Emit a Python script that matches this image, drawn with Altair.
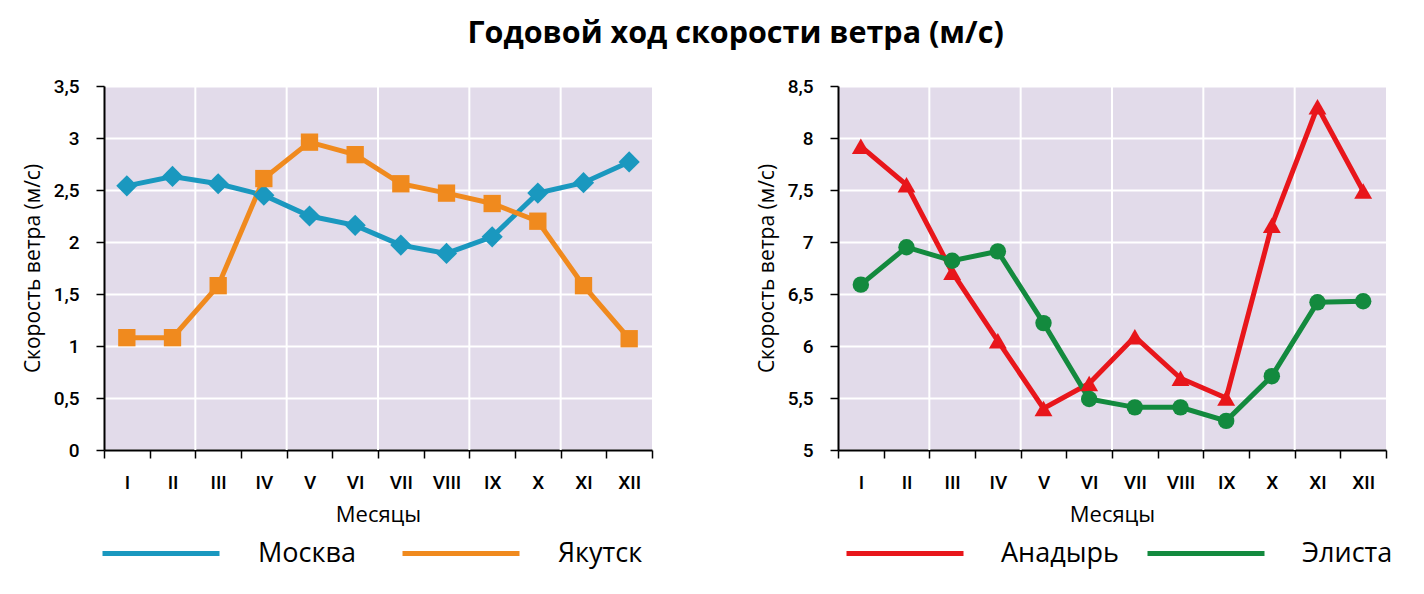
import altair as alt
import pandas as pd

months = ["I", "II", "III", "IV", "V", "VI", "VII", "VIII", "IX", "X", "XI", "XII"]
grid_months = ["III", "V", "VII", "IX", "XI"]

moscow = [2.54, 2.63, 2.56, 2.45, 2.25, 2.16, 1.97, 1.89, 2.05, 2.47, 2.57, 2.77]
yakutsk = [1.08, 1.08, 1.58, 2.61, 2.96, 2.84, 2.56, 2.47, 2.37, 2.20, 1.58, 1.07]
anadyr = [7.92, 7.55, 6.71, 6.05, 5.40, 5.64, 6.09, 5.69, 5.50, 7.16, 8.30, 7.49]
elista = [6.59, 6.95, 6.82, 6.91, 6.22, 5.49, 5.41, 5.41, 5.28, 5.71, 6.42, 6.43]

left_names = ["Москва", "Якутск"]
right_names = ["Анадырь", "Элиста"]
left_colors = ["#1a98bf", "#f08a1e"]
right_colors = ["#e8161b", "#138a3e"]
left_shapes = ["diamond", "square"]
right_shapes = ["triangle-up", "circle"]
left_sizes = [450, 300]
right_sizes = [320, 270]
left_ticks = [0, 0.5, 1, 1.5, 2, 2.5, 3, 3.5]
right_ticks = [5, 5.5, 6, 6.5, 7, 7.5, 8, 8.5]

W, H = 548, 364
SYM = 117
AXF = "Roboto, sans-serif"
TXF = "Open Sans, sans-serif"


def panel(names, series, colors, shapes, sizes, ydom, yvals, legx, colpad, laboff):
    rows = []
    for n, s in zip(names, series):
        for m, v in zip(months, s):
            rows.append({"m": m, "v": v, "city": n})
    df = pd.DataFrame(rows)
    xs = alt.Scale(type="band", domain=months, paddingInner=0, paddingOuter=0)
    ys = alt.Scale(domain=ydom, nice=False, zero=False)
    xaxis = alt.Axis(
        title="Месяцы", tickBand="extent", labelAngle=0, grid=False,
        domainColor="black", domainWidth=2, tickColor="black", tickSize=8,
        tickWidth=1.5, labelPadding=15, labelFontSize=19, labelFont=AXF,
        labelFontWeight=500, labelColor="black", titleFontSize=22,
        titleFont=TXF, titleFontWeight="normal", titleColor="black",
        titlePadding=12,
    )
    yaxis = alt.Axis(
        values=yvals, title="Скорость ветра (м/с)", grid=True, gridColor="white",
        gridWidth=2, gridOpacity=1, domainColor="black", domainWidth=2,
        tickColor="black", tickSize=8, tickWidth=1.5, labelPadding=17,
        labelFontSize=19, labelFont=AXF, labelFontWeight=500,
        labelColor="black", format=".1~f",
        labelExpr="replace(datum.label, '.', ',')", titleFontSize=21,
        titleFont=TXF, titleFontWeight="normal", titleColor="black",
        titlePadding=10,
    )
    x = alt.X("m:N", scale=xs, sort=months, axis=xaxis)
    y = alt.Y("v:Q", scale=ys, axis=yaxis)
    grid = alt.Chart(pd.DataFrame({"m": grid_months})).mark_rule(
        color="white", strokeWidth=2
    ).encode(x=alt.X("m:N", scale=xs, sort=months, axis=xaxis, bandPosition=0))
    legend = alt.Legend(
        title=None, orient="none", legendX=legx, legendY=H + 101 - SYM / 2,
        direction="horizontal", symbolType="stroke", symbolSize=SYM ** 2,
        symbolStrokeWidth=5, labelFontSize=27, labelFont=TXF,
        labelColor="black", labelOffset=laboff, columnPadding=colpad,
        symbolOpacity=1,
    )
    color = alt.Color("city:N", scale=alt.Scale(domain=names, range=colors),
                      legend=legend)
    base = alt.Chart(df)
    lines = base.mark_line(strokeWidth=5).encode(x=x, y=y, color=color)
    layers = [grid, lines]
    for n, c, sh, sz in zip(names, colors, shapes, sizes):
        layers.append(
            base.mark_point(filled=True, opacity=1, color=c, shape=sh, size=sz)
            .transform_filter(alt.datum.city == n)
            .encode(x=x, y=y)
        )
    return alt.layer(*layers).properties(width=W, height=H)


left = panel(left_names, [moscow, yakutsk], left_colors, left_shapes, left_sizes,
             [0, 3.5], left_ticks, -4, 36, 36)
right = panel(right_names, [anadyr, elista], right_colors, right_shapes,
              right_sizes, [5, 8.5], right_ticks, 6, 18, 35)

chart = alt.hconcat(left, right, spacing=103).resolve_scale(
    color="independent", x="independent", y="independent",
).resolve_legend(color="independent").properties(
    title=alt.TitleParams(
        text="Годовой ход скорости ветра (м/с)", fontSize=30.5, fontWeight="bold",
        font=TXF, color="black", anchor="middle", offset=28, dx=28,
    ),
    padding={"left": 14, "top": 10, "right": 5, "bottom": 5},
).configure_view(fill="#e2dbea", stroke=None)

chart.save("out.html", embed_options={"renderer": "svg", "actions": False})
